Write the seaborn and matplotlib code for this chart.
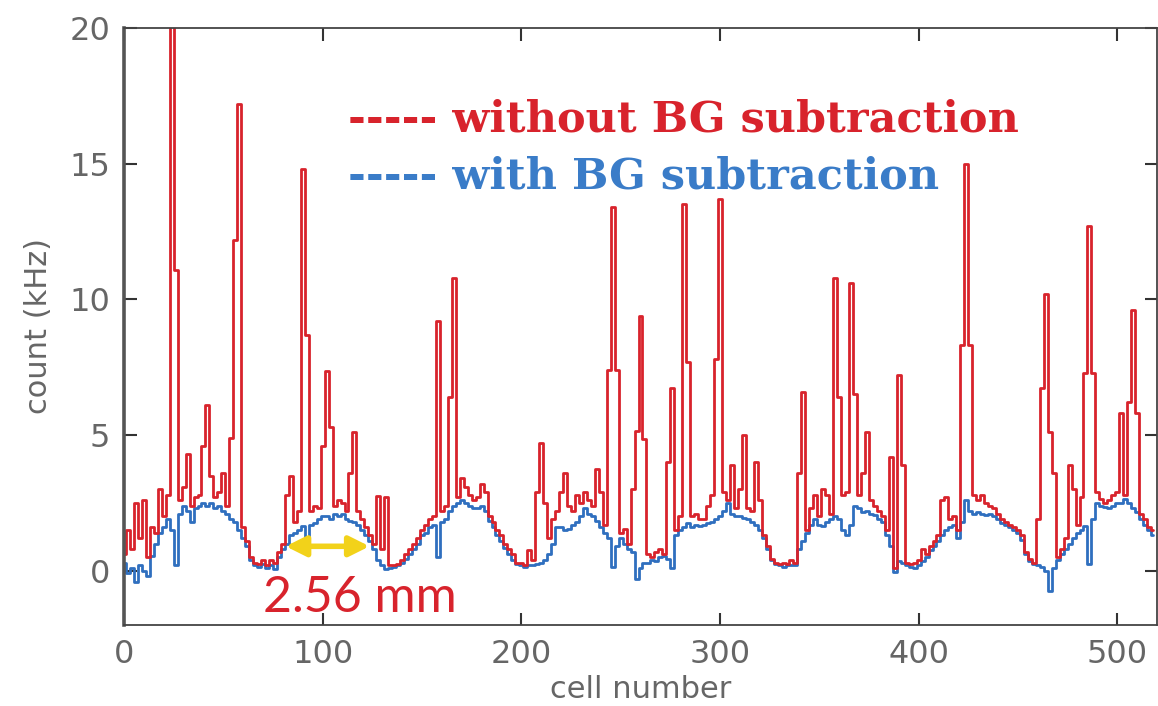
import numpy as np
import pandas as pd
import matplotlib
matplotlib.use("Agg")
import matplotlib.pyplot as plt
import seaborn as sns

# cell index, sampled every 2 cells
cells = np.arange(0, 520, 2)

# count with BG subtraction (kHz)
with_bg = [
    0.3, -0.1, 0.1, -0.4, 0.2, 0.0, -0.2, 0.55, 1.0, 1.4,
    1.6, 1.9, 1.5, 0.2, 2.1, 2.4, 2.2, 1.8, 2.3, 2.4,
    2.5, 2.4, 2.5, 2.3, 2.4, 2.2, 2.1, 1.9, 1.8, 1.5,
    1.2, 0.9, 0.4, 0.2, 0.15, 0.25, 0.1, 0.2, 0.05, 0.5,
    0.8, 1.0, 1.3, 1.4, 1.5, 1.65, 1.1, 1.7, 1.75, 1.9,
    2.0, 2.0, 1.9, 2.1, 2.0, 2.1, 1.9, 1.85, 1.8, 1.7,
    1.5, 1.3, 1.1, 0.8, 0.4, 0.2, 0.05, 0.1, 0.15, 0.2,
    0.3, 0.45, 0.6, 0.8, 1.0, 1.3, 1.4, 1.6, 1.7, 0.5,
    1.8, 1.9, 2.2, 2.4, 2.5, 2.6, 2.5, 2.4, 2.3, 2.3,
    2.4, 2.2, 1.85, 1.6, 1.3, 1.1, 0.85, 0.6, 0.4, 0.25,
    0.2, 0.15, 0.2, 0.2, 0.25, 0.3, 0.4, 0.6, 1.0, 1.6,
    1.6, 1.5, 1.55, 1.7, 1.8, 2.0, 2.3, 2.1, 2.0, 1.85,
    1.6, 1.4, 1.2, 0.15, 0.9, 1.2, 1.0, 0.8, 0.7, -0.3,
    0.1, 0.3, 0.3, 0.4, 0.35, 0.5, 0.55, 0.45, 0.1, 1.3,
    1.5, 1.6, 1.75, 1.6, 1.7, 1.65, 1.7, 1.75, 1.8, 1.9,
    2.0, 2.2, 2.5, 2.1, 2.0, 2.0, 1.95, 1.9, 1.8, 1.7,
    1.5, 1.2, 0.8, 0.4, 0.25, 0.2, 0.15, 0.2, 0.2, 0.2,
    0.8, 1.1, 1.4, 1.7, 1.9, 1.7, 1.65, 1.8, 1.9, 2.0,
    1.9, 1.5, 1.3, 1.7, 2.4, 2.3, 2.15, 2.2, 2.1, 2.05,
    1.9, 1.8, 1.3, 0.9, -0.05, 0.35, 0.3, 0.2, 0.15, 0.1,
    0.2, 0.35, 0.5, 0.75, 0.9, 1.1, 1.3, 1.5, 1.6, 1.7,
    1.2, 1.8, 2.6, 2.2, 2.1, 2.15, 2.1, 2.05, 2.1, 2.0,
    1.9, 1.75, 1.7, 1.6, 1.5, 1.4, 1.15, 0.6, 0.35, 0.25,
    0.2, 0.15, 0.0, -0.75, 0.1, 0.4, 0.6, 0.8, 1.0, 1.2,
    1.4, 1.5, 1.65, 0.25, 1.9, 2.5, 2.4, 2.35, 2.3, 2.4,
    2.5, 2.5, 2.65, 2.5, 2.3, 2.15, 1.9, 1.7, 1.5, 1.3,
]

# count without BG subtraction (kHz)
without_bg = [
    0.6, 1.5, 0.8, 2.5, 1.2, 2.6, 0.5, 1.6, 1.4, 3.0,
    2.0, 2.8, 20.5, 11.1, 2.6, 3.1, 4.3, 2.4, 2.7, 2.8,
    4.6, 6.1, 3.5, 2.7, 2.9, 3.6, 2.4, 4.9, 12.2, 17.2,
    1.6, 1.1, 0.5, 0.3, 0.25, 0.4, 0.2, 0.4, 0.3, 0.7,
    1.0, 2.8, 3.5, 1.8, 2.2, 14.8, 8.7, 2.2, 2.4, 2.3,
    4.6, 7.35, 5.3, 2.4, 2.6, 2.5, 2.2, 3.6, 5.1, 2.2,
    1.9, 1.6, 1.3, 1.0, 2.75, 0.8, 2.7, 0.2, 0.2, 0.25,
    0.4, 0.6, 0.8, 1.0, 1.2, 1.5, 1.7, 1.9, 2.0, 9.2,
    2.2, 2.4, 6.4, 10.8, 2.7, 3.4, 3.1, 2.8, 2.6, 2.7,
    3.2, 2.9, 2.0, 1.8, 1.5, 1.3, 1.0, 0.8, 0.6, 0.3,
    0.3, 0.2, 0.75, 0.4, 2.9, 4.7, 2.5, 1.2, 1.9, 2.2,
    2.9, 3.6, 2.4, 2.2, 2.8, 2.5, 2.9, 2.6, 2.4, 3.75,
    2.9, 1.7, 7.4, 13.4, 7.4, 1.4, 1.55, 1.0, 3.0, 5.15,
    9.4, 4.85, 0.6, 0.5, 0.7, 0.8, 0.6, 4.0, 6.75, 1.5,
    2.0, 13.5, 7.7, 2.0, 2.1, 1.9, 1.9, 2.4, 2.8, 7.8,
    13.7, 2.9, 2.6, 3.9, 2.3, 3.0, 5.0, 2.3, 2.2, 4.0,
    2.6, 1.3, 0.9, 0.45, 0.3, 0.25, 0.3, 0.25, 0.4, 0.3,
    3.6, 6.6, 1.5, 2.3, 2.8, 2.0, 3.0, 2.8, 2.1, 10.8,
    6.4, 2.8, 2.9, 10.6, 6.5, 2.8, 3.6, 5.1, 2.6, 2.4,
    2.2, 2.0, 1.5, 4.2, 0.1, 7.2, 3.9, 0.3, 0.25, 0.3,
    0.4, 0.8, 0.6, 0.9, 1.1, 1.3, 2.6, 2.7, 1.9, 2.0,
    1.5, 8.3, 15.0, 8.3, 2.8, 2.6, 2.8, 2.5, 2.4, 2.3,
    2.1, 1.9, 1.8, 1.7, 1.6, 1.5, 1.3, 0.7, 0.45, 0.3,
    1.9, 6.75, 10.2, 5.1, 3.6, 0.5, 0.8, 1.2, 3.9, 3.0,
    1.7, 2.7, 7.3, 12.7, 7.3, 2.9, 2.65, 2.5, 2.6, 2.8,
    2.9, 5.8, 2.8, 6.2, 9.6, 5.8, 2.1, 1.9, 1.6, 1.5,
]

x_ticks = [0, 100, 200, 300, 400, 500]
y_ticks = [0, 5, 10, 15, 20]

df = pd.DataFrame({"cell": cells, "with": with_bg, "without": without_bg})

sns.set_style("ticks")
plt.rcParams["font.family"] = ["DejaVu Sans"]

fig = plt.figure(figsize=(11.58, 7.06), dpi=100)
ax = fig.add_axes([124 / 1158, 81 / 706, 1033 / 1158, 597 / 706])

red = "#d8232c"
blue = "#2f6fbf"

sns.lineplot(data=df, x="cell", y="with", color=blue, lw=2.0,
             drawstyle="steps-mid", ax=ax)
sns.lineplot(data=df, x="cell", y="without", color=red, lw=2.0,
             drawstyle="steps-mid", ax=ax)

ax.set_xlim(0, 520)
ax.set_ylim(-2, 20)
ax.set_xticks(x_ticks)
ax.set_yticks(y_ticks)
ax.tick_params(direction="in", length=9, width=1.5, colors="#333333",
               labelcolor="#666666", labelsize=23, top=True, right=True, pad=10)
for s in ["top", "right", "bottom"]:
    ax.spines[s].set_linewidth(1.3)
    ax.spines[s].set_color("#444444")
ax.spines["left"].set_linewidth(2.6)
ax.spines["left"].set_color("#555555")

ax.set_xlabel("cell number", fontsize=22, color="#666666", labelpad=4)
ax.set_ylabel("count (kHz)", fontsize=22, color="#666666", labelpad=12)

# legend written as coloured text
ax.text(0.217, 0.847, "----- without BG subtraction", transform=ax.transAxes,
        color=red, fontsize=31, fontweight="bold", family="DejaVu Serif",
        va="center", ha="left")
ax.text(0.217, 0.752, "----- with BG subtraction", transform=ax.transAxes,
        color="#3a7cc8", fontsize=31, fontweight="bold", family="DejaVu Serif",
        va="center", ha="left")

# spacing annotation
ax.annotate("", xy=(80, 0.9), xytext=(125, 0.9),
            arrowprops=dict(arrowstyle="<|-|>", color="#f2d21a", lw=4,
                            mutation_scale=30))
ax.text(70, -1.0, "2.56 mm", color=red, fontsize=36, family="Lato",
        va="center", ha="left")

fig.savefig("out.png", dpi=100)
